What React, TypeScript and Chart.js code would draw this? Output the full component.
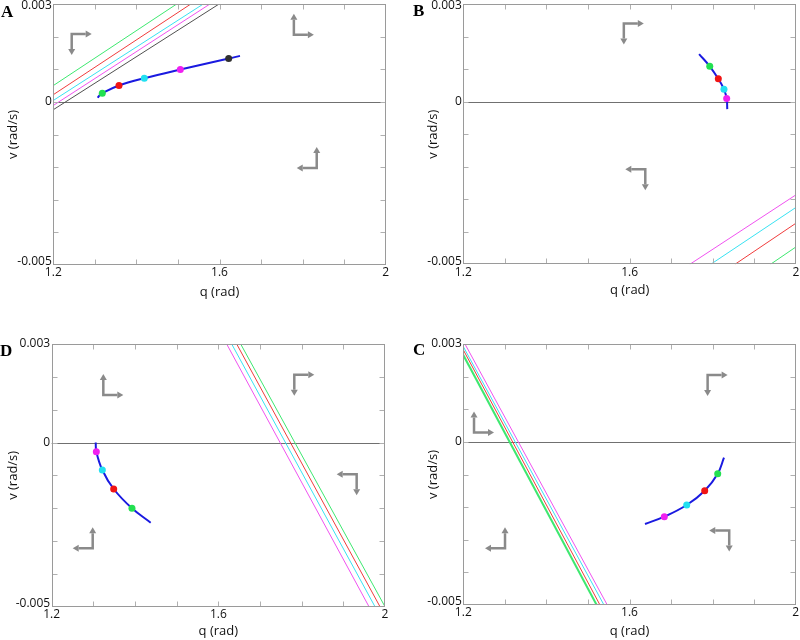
import React, { useEffect, useRef } from "react";
import { Chart, registerables } from "chart.js";

Chart.register(...registerables);

// ---------- shared axes ----------
const Q_MIN = 1.2;
const Q_MAX = 2;
const V_MIN = -0.005;
const V_MAX = 0.003;
const X_TICK_VALUES = [1.2, 1.6, 2];
const X_TICK_TEXT = ["1.2", "1.6", "2"];
const Y_TICK_VALUES = [0.003, 0, -0.005];
const Y_TICK_TEXT = ["0.003", "0", "-0.005"];
const X_MINOR_STEP = 0.1;
const Y_MINOR_STEP = 0.001;
const X_TITLE = "q (rad)";
const Y_TITLE = "v (rad/s)";

const GREEN = "#3ee870";
const RED = "#f03c3c";
const CYAN = "#38e2f2";
const MAGENTA = "#f052f0";
const DARK = "#505050";
const DOT_GREEN = "#22e050";
const DOT_RED = "#f01414";
const DOT_CYAN = "#22e0f0";
const DOT_MAGENTA = "#f020f0";
const DOT_DARK = "#303030";
const BLUE = "#1a1ae0";

// ---------- panel A ----------
const A_LINE_COLORS = [GREEN, RED, CYAN, MAGENTA, DARK];
const A_LINE_Q0 = [1.2, 1.2, 1.2, 1.2, 1.2];
const A_LINE_V0 = [0.0005, 0.00022, 0.000044, -0.00011, -0.00024];
const A_LINE_Q1 = [1.497, 1.531, 1.561, 1.577, 1.599];
const A_LINE_V1 = [0.003, 0.003, 0.003, 0.003, 0.003];
const A_CURVE_Q = [1.3069, 1.311, 1.3179, 1.3581, 1.419, 1.5057, 1.6221, 1.6493];
const A_CURVE_V = [0.000127, 0.000197, 0.000267, 0.000503, 0.000726, 0.000992, 0.001328, 0.00141];
const A_DOT_Q = [1.3179, 1.3581, 1.419, 1.5057, 1.6221];
const A_DOT_V = [0.000267, 0.000503, 0.000726, 0.000992, 0.001328];
const A_DOT_COLORS = [DOT_GREEN, DOT_RED, DOT_CYAN, DOT_MAGENTA, DOT_DARK];
const A_ARROW_Q = [1.2443, 1.779, 1.834];
const A_ARROW_V = [0.00208, 0.00206, -0.00203];
const A_ARROW_H = [1, 1, -1];
const A_ARROW_VD = [-1, 1, 1];

// ---------- panel B ----------
const B_LINE_COLORS = [MAGENTA, CYAN, RED, GREEN];
const B_LINE_Q0 = [1.7447, 1.795, 1.8532, 1.9387];
const B_LINE_V0 = [-0.005, -0.005, -0.005, -0.005];
const B_LINE_Q1 = [2, 2, 2, 2];
const B_LINE_V1 = [-0.002864, -0.00325, -0.003736, -0.004465];
const B_CURVE_Q = [1.767, 1.7926, 1.8132, 1.8268, 1.8333, 1.8347];
const B_CURVE_V = [0.00146, 0.001086, 0.0007, 0.000378, 0.000092, -0.00023];
const B_DOT_Q = [1.7926, 1.8132, 1.8268, 1.8333];
const B_DOT_V = [0.001086, 0.0007, 0.000378, 0.000092];
const B_DOT_COLORS = [DOT_GREEN, DOT_RED, DOT_CYAN, DOT_MAGENTA];
const B_ARROW_Q = [1.586, 1.6376];
const B_ARROW_V = [0.0024, -0.00208];
const B_ARROW_H = [1, -1];
const B_ARROW_VD = [-1, -1];

// ---------- panel D ----------
const D_LINE_COLORS = [MAGENTA, CYAN, RED, GREEN];
const D_LINE_Q0 = [1.62, 1.632, 1.644, 1.6536];
const D_LINE_V0 = [0.003, 0.003, 0.003, 0.003];
const D_LINE_Q1 = [1.9616, 1.976, 1.988, 2.0];
const D_LINE_V1 = [-0.005, -0.005, -0.005, -0.005];
const D_CURVE_Q = [1.3056, 1.3071, 1.3215, 1.3488, 1.3927, 1.4376];
const D_CURVE_V = [0.0, -0.00028, -0.000837, -0.001416, -0.002003, -0.002442];
const D_DOT_Q = [1.3071, 1.3215, 1.3488, 1.3927];
const D_DOT_V = [-0.00028, -0.000837, -0.001416, -0.002003];
const D_DOT_COLORS = [DOT_MAGENTA, DOT_CYAN, DOT_RED, DOT_GREEN];
const D_ARROW_Q = [1.3239, 1.7823, 1.932, 1.2984];
const D_ARROW_V = [0.00145, 0.00206, -0.00097, -0.00322];
const D_ARROW_H = [1, 1, -1, -1];
const D_ARROW_VD = [1, -1, -1, 1];

// ---------- panel C ----------
const C_LINE_COLORS = [MAGENTA, CYAN, RED, GREEN];
const C_LINE_Q0 = [1.204, 1.2, 1.2, 1.2];
const C_LINE_V0 = [0.003, 0.00292, 0.00282, 0.00266];
const C_LINE_Q1 = [1.5466, 1.5386, 1.529, 1.521];
const C_LINE_V1 = [-0.005, -0.005, -0.005, -0.005];
const C_CURVE_Q = [1.6373, 1.6838, 1.7377, 1.781, 1.8123, 1.8274];
const C_CURVE_V = [-0.002517, -0.002293, -0.001935, -0.001497, -0.000975, -0.000485];
const C_DOT_Q = [1.6838, 1.7377, 1.781, 1.8123];
const C_DOT_V = [-0.002293, -0.001935, -0.001497, -0.000975];
const C_DOT_COLORS = [DOT_MAGENTA, DOT_CYAN, DOT_RED, DOT_GREEN];
const C_ARROW_Q = [1.788, 1.2258, 1.3004, 1.84];
const C_ARROW_V = [0.00205, 0.00029, -0.00326, -0.00272];
const C_ARROW_H = [1, 1, -1, -1];
const C_ARROW_VD = [-1, 1, 1, -1];

type Panel = {
  letter: string;
  lineColors: string[]; lineQ0: number[]; lineV0: number[]; lineQ1: number[]; lineV1: number[];
  curveQ: number[]; curveV: number[];
  dotQ: number[]; dotV: number[]; dotColors: string[];
  arrowQ: number[]; arrowV: number[]; arrowH: number[]; arrowVD: number[];
  // layout (style)
  pos: { left: number; top: number };
  area: { l: number; r: number; t: number; b: number };
  yTitleX: number; xTitleY: number; letterX: number; letterY: number;
  thickLast?: boolean;
};

const PANELS: Panel[] = [
  {
    letter: "A",
    lineColors: A_LINE_COLORS, lineQ0: A_LINE_Q0, lineV0: A_LINE_V0, lineQ1: A_LINE_Q1, lineV1: A_LINE_V1,
    curveQ: A_CURVE_Q, curveV: A_CURVE_V, dotQ: A_DOT_Q, dotV: A_DOT_V, dotColors: A_DOT_COLORS,
    arrowQ: A_ARROW_Q, arrowV: A_ARROW_V, arrowH: A_ARROW_H, arrowVD: A_ARROW_VD,
    pos: { left: 0, top: 0 }, area: { l: 53.3, r: 385.7, t: 3.3, b: 265 },
    yTitleX: 13, xTitleY: 292, letterX: 1, letterY: 16.7,
  },
  {
    letter: "B",
    lineColors: B_LINE_COLORS, lineQ0: B_LINE_Q0, lineV0: B_LINE_V0, lineQ1: B_LINE_Q1, lineV1: B_LINE_V1,
    curveQ: B_CURVE_Q, curveV: B_CURVE_V, dotQ: B_DOT_Q, dotV: B_DOT_V, dotColors: B_DOT_COLORS,
    arrowQ: B_ARROW_Q, arrowV: B_ARROW_V, arrowH: B_ARROW_H, arrowVD: B_ARROW_VD,
    pos: { left: 400, top: 0 }, area: { l: 63.3, r: 397.3, t: 1, b: 264.3 },
    yTitleX: 33, xTitleY: 290, letterX: 13, letterY: 16,
  },
  {
    letter: "D",
    lineColors: D_LINE_COLORS, lineQ0: D_LINE_Q0, lineV0: D_LINE_V0, lineQ1: D_LINE_Q1, lineV1: D_LINE_V1,
    curveQ: D_CURVE_Q, curveV: D_CURVE_V, dotQ: D_DOT_Q, dotV: D_DOT_V, dotColors: D_DOT_COLORS,
    arrowQ: D_ARROW_Q, arrowV: D_ARROW_V, arrowH: D_ARROW_H, arrowVD: D_ARROW_VD,
    pos: { left: 0, top: 320 }, area: { l: 51.7, r: 385, t: 24, b: 286.7 },
    yTitleX: 13, xTitleY: 311, letterX: 0, letterY: 36,
  },
  {
    letter: "C",
    lineColors: C_LINE_COLORS, lineQ0: C_LINE_Q0, lineV0: C_LINE_V0, lineQ1: C_LINE_Q1, lineV1: C_LINE_V1,
    curveQ: C_CURVE_Q, curveV: C_CURVE_V, dotQ: C_DOT_Q, dotV: C_DOT_V, dotColors: C_DOT_COLORS,
    arrowQ: C_ARROW_Q, arrowV: C_ARROW_V, arrowH: C_ARROW_H, arrowVD: C_ARROW_VD,
    pos: { left: 400, top: 320 }, area: { l: 63.3, r: 395.7, t: 24, b: 285 },
    yTitleX: 33, xTitleY: 311.5, letterX: 13, letterY: 35, thickLast: true,
  },
];

const W = 400;
const H = 320;
const TICK_FONT = '12px "Open Sans"';
const TITLE_FONT = '13px "Open Sans"';
const LETTER_FONT = 'bold 17px "Liberation Serif"';
const ARROW_COLOR = "#8a8a8a";

function drawArrow(ctx: CanvasRenderingContext2D, x: number, y: number, h: number, vd: number) {
  const HL = 20, VL = 21, HEAD = 6, HW = 3.5;
  const hx = x + h * HL;
  const vy = y - vd * VL;
  ctx.save();
  ctx.strokeStyle = ARROW_COLOR;
  ctx.fillStyle = ARROW_COLOR;
  ctx.lineWidth = 2.5;
  ctx.lineCap = "butt";
  ctx.lineJoin = "miter";
  ctx.beginPath();
  ctx.moveTo(hx - h * HEAD, y);
  ctx.lineTo(x, y);
  ctx.lineTo(x, vy + vd * HEAD);
  ctx.stroke();
  ctx.beginPath();
  ctx.moveTo(hx, y);
  ctx.lineTo(hx - h * HEAD, y - HW);
  ctx.lineTo(hx - h * HEAD, y + HW);
  ctx.closePath();
  ctx.fill();
  ctx.beginPath();
  ctx.moveTo(x, vy);
  ctx.lineTo(x - HW, vy + vd * HEAD);
  ctx.lineTo(x + HW, vy + vd * HEAD);
  ctx.closePath();
  ctx.fill();
  ctx.restore();
}

function makeDecor(p: Panel) {
  return {
    id: "decor" + p.letter,
    beforeDatasetsDraw(chart: any) {
      const { ctx, chartArea } = chart;
      const ys = chart.scales.y;
      const y0 = Math.round(ys.getPixelForValue(0)) + 0.5;
      ctx.save();
      ctx.strokeStyle = "#707070";
      ctx.lineWidth = 1;
      ctx.beginPath();
      ctx.moveTo(chartArea.left, y0);
      ctx.lineTo(chartArea.right, y0);
      ctx.stroke();
      ctx.restore();
    },
    afterDraw(chart: any) {
      const { ctx, chartArea } = chart;
      const xs = chart.scales.x;
      const ys = chart.scales.y;
      const L = Math.round(chartArea.left) + 0.5;
      const R = Math.round(chartArea.right) - 0.5;
      const T = Math.round(chartArea.top) + 0.5;
      const B = Math.round(chartArea.bottom) - 0.5;
      ctx.save();
      // minor ticks (inside, mirrored)
      ctx.strokeStyle = "#b0b0b0";
      ctx.lineWidth = 1;
      ctx.beginPath();
      const nx = Math.round((Q_MAX - Q_MIN) / X_MINOR_STEP);
      for (let i = 1; i < nx; i++) {
        const x = Math.round(xs.getPixelForValue(Q_MIN + i * X_MINOR_STEP)) + 0.5;
        ctx.moveTo(x, B); ctx.lineTo(x, B - 5);
        ctx.moveTo(x, T); ctx.lineTo(x, T + 5);
      }
      const ny = Math.round((V_MAX - V_MIN) / Y_MINOR_STEP);
      for (let i = 1; i < ny; i++) {
        const y = Math.round(ys.getPixelForValue(V_MIN + i * Y_MINOR_STEP)) + 0.5;
        ctx.moveTo(L, y); ctx.lineTo(L + 5, y);
        ctx.moveTo(R, y); ctx.lineTo(R - 5, y);
      }
      ctx.stroke();
      // frame
      ctx.strokeStyle = "#9a9a9a";
      ctx.strokeRect(L, T, R - L, B - T);
      // tick labels
      ctx.fillStyle = "#111";
      ctx.font = TICK_FONT;
      ctx.textAlign = "center";
      ctx.textBaseline = "top";
      X_TICK_VALUES.forEach((v, i) => {
        ctx.fillText(X_TICK_TEXT[i], xs.getPixelForValue(v), chartArea.bottom + 2);
      });
      ctx.textAlign = "right";
      ctx.textBaseline = "middle";
      Y_TICK_VALUES.forEach((v, i) => {
        let y = ys.getPixelForValue(v);
        y = Math.min(Math.max(y, 5.5), chartArea.bottom - 3);
        ctx.fillText(Y_TICK_TEXT[i], chartArea.left - 1.5, y);
      });
      // axis titles
      ctx.font = TITLE_FONT;
      ctx.textAlign = "center";
      ctx.textBaseline = "middle";
      ctx.fillText(X_TITLE, (chartArea.left + chartArea.right) / 2, p.xTitleY);
      ctx.save();
      ctx.translate(p.yTitleX, (chartArea.top + chartArea.bottom) / 2);
      ctx.rotate(-Math.PI / 2);
      ctx.fillText(Y_TITLE, 0, 0);
      ctx.restore();
      // panel letter
      ctx.font = LETTER_FONT;
      ctx.textAlign = "left";
      ctx.textBaseline = "alphabetic";
      ctx.fillStyle = "#000";
      ctx.fillText(p.letter, p.letterX, p.letterY);
      ctx.restore();
      // arrows
      p.arrowQ.forEach((q, i) => {
        drawArrow(ctx, xs.getPixelForValue(q), ys.getPixelForValue(p.arrowV[i]), p.arrowH[i], p.arrowVD[i]);
      });
    },
  };
}

function PanelChart({ p }: { p: Panel }) {
  const ref = useRef<HTMLCanvasElement | null>(null);
  useEffect(() => {
    if (!ref.current) return;
    const lineSets = p.lineColors.map((c, i) => ({
      data: [
        { x: p.lineQ0[i], y: p.lineV0[i] },
        { x: p.lineQ1[i], y: p.lineV1[i] },
      ],
      borderColor: c,
      borderWidth: p.thickLast && i === p.lineColors.length - 1 ? 2 : 1,
      showLine: true,
      pointRadius: 0,
      clip: 0,
      order: 3,
    }));
    const curve = {
      data: p.curveQ.map((q, i) => ({ x: q, y: p.curveV[i] })),
      borderColor: BLUE,
      borderWidth: 2,
      showLine: true,
      tension: 0.4,
      pointRadius: 0,
      clip: 0,
      order: 2,
    };
    const dots = {
      data: p.dotQ.map((q, i) => ({ x: q, y: p.dotV[i] })),
      showLine: false,
      pointRadius: 3.5,
      pointBackgroundColor: p.dotColors,
      pointBorderColor: p.dotColors,
      pointBorderWidth: 0,
      clip: 0,
      order: 1,
    };
    const chart = new Chart(ref.current, {
      type: "scatter",
      data: { datasets: [...lineSets, curve, dots] as any },
      options: {
        responsive: false,
        animation: false,
        events: [],
        layout: {
          padding: { left: p.area.l, right: W - p.area.r, top: p.area.t, bottom: H - p.area.b },
        },
        plugins: { legend: { display: false }, tooltip: { enabled: false } },
        scales: {
          x: { type: "linear", min: Q_MIN, max: Q_MAX, display: false },
          y: { type: "linear", min: V_MIN, max: V_MAX, display: false },
        },
      },
      plugins: [makeDecor(p)],
    });
    return () => chart.destroy();
  }, [p]);
  return (
    <canvas
      ref={ref}
      width={W}
      height={H}
      style={{ position: "absolute", left: p.pos.left, top: p.pos.top, width: W, height: H, display: "block" }}
    />
  );
}

export default function App() {
  return (
    <div style={{ position: "fixed", left: 0, top: 0, width: 800, height: 640, background: "#fff" }}>
      {PANELS.map((p) => (
        <PanelChart key={p.letter} p={p} />
      ))}
    </div>
  );
}
